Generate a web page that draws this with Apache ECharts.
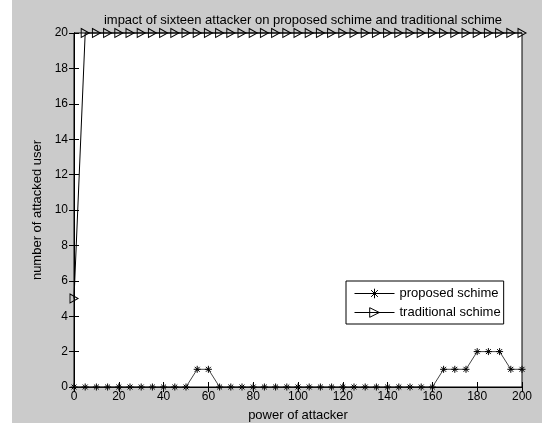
<!DOCTYPE html>
<html>
<head>
<meta charset="utf-8">
<script src="https://cdn.jsdelivr.net/npm/echarts@6/dist/echarts.min.js"></script>
<style>
html,body{margin:0;padding:0;background:#ffffff;}
#chart{width:542px;height:423px;}
</style>
</head>
<body>
<div id="chart"></div>
<script>
const titleText = 'impact of sixteen attacker on proposed schime and traditional schime';
const xLabel = 'power of attacker';
const yLabel = 'number of attacked user';
const seriesNames = ['proposed schime', 'traditional schime'];
const xValues = [0,5,10,15,20,25,30,35,40,45,50,55,60,65,70,75,80,85,90,95,100,105,110,115,120,125,130,135,140,145,150,155,160,165,170,175,180,185,190,195,200];
const proposed = [0,0,0,0,0,0,0,0,0,0,0,1,1,0,0,0,0,0,0,0,0,0,0,0,0,0,0,0,0,0,0,0,0,1,1,1,2,2,2,1,1];
const traditional = [5,20,20,20,20,20,20,20,20,20,20,20,20,20,20,20,20,20,20,20,20,20,20,20,20,20,20,20,20,20,20,20,20,20,20,20,20,20,20,20,20];
const xTicks = {min: 0, max: 200, interval: 20};
const yTicks = {min: 0, max: 20, interval: 2};

const pairs = (ys) => xValues.map((x, i) => [x, ys[i]]);
const FONT = 'Liberation Sans';
const starPath = 'path://M5,0L5,10M0,5L10,5M1.5,1.5L8.5,8.5M1.5,8.5L8.5,1.5';
const triPath = 'path://M0,0L10,5L0,10Z';
const hollow = {color: 'rgba(0,0,0,0)', borderColor: '#000', borderWidth: 1};

const chart = echarts.init(document.getElementById('chart'), null, {renderer: 'canvas'});
const axisCommon = {
  type: 'value',
  axisLine: {show: true, lineStyle: {color: '#000', width: 1}},
  axisTick: {show: true, inside: true, length: 5, lineStyle: {color: '#000'}},
  splitLine: {show: false},
  axisLabel: {color: '#000', fontFamily: FONT, fontSize: 12}
};
const nameStyle = {fontFamily: FONT, fontSize: 13, color: '#000'};
chart.setOption({
  animation: false,
  backgroundColor: 'transparent',
  graphic: [{
    type: 'rect', z: -10, silent: true,
    shape: {x: 12, y: 0, width: 530, height: 423},
    style: {fill: '#cbcbcb'}
  }],
  title: {
    text: titleText,
    left: 298, top: 9, textAlign: 'center',
    textStyle: {fontFamily: FONT, fontSize: 13, fontWeight: 'normal', color: '#000'}
  },
  grid: {
    left: 74, right: 20, top: 33, bottom: 36,
    containLabel: false,
    outerBoundsMode: 'none',
    show: true, backgroundColor: '#fff', borderColor: '#000', borderWidth: 1
  },
  legend: {
    orient: 'vertical',
    left: 346, top: 281,
    backgroundColor: '#fff', borderColor: '#000', borderWidth: 1,
    padding: [6, 3, 5, 8],
    itemGap: 6, itemWidth: 40, itemHeight: 12,
    textStyle: {fontFamily: FONT, fontSize: 13, color: '#000'},
    lineStyle: {width: 1, color: '#000'},
    data: [
      {name: seriesNames[0], itemStyle: hollow},
      {name: seriesNames[1], itemStyle: hollow}
    ]
  },
  xAxis: [
    Object.assign({}, axisCommon, xTicks, {
      position: 'bottom',
      name: xLabel, nameLocation: 'middle', nameGap: 22,
      nameTextStyle: nameStyle,
      axisLabel: Object.assign({}, axisCommon.axisLabel, {margin: 4})
    }),
    Object.assign({}, axisCommon, xTicks, {
      position: 'top', axisLabel: {show: false}
    })
  ],
  yAxis: [
    Object.assign({}, axisCommon, yTicks, {
      position: 'left',
      name: yLabel, nameLocation: 'middle', nameGap: 27, nameRotate: 90,
      nameTextStyle: nameStyle,
      axisLabel: Object.assign({}, axisCommon.axisLabel, {margin: 6})
    }),
    Object.assign({}, axisCommon, yTicks, {
      position: 'right', axisLabel: {show: false}
    })
  ],
  series: [
    {
      name: seriesNames[0], type: 'line',
      data: pairs(proposed),
      symbol: starPath, symbolSize: 7, showAllSymbol: true,
      lineStyle: {color: '#444', width: 1},
      itemStyle: hollow,
      z: 3
    },
    {
      name: seriesNames[1], type: 'line',
      data: pairs(traditional),
      symbol: triPath, symbolSize: [8, 9], showAllSymbol: true,
      lineStyle: {color: '#000', width: 1},
      itemStyle: hollow,
      clip: false,
      z: 2
    }
  ]
});
</script>
</body>
</html>
